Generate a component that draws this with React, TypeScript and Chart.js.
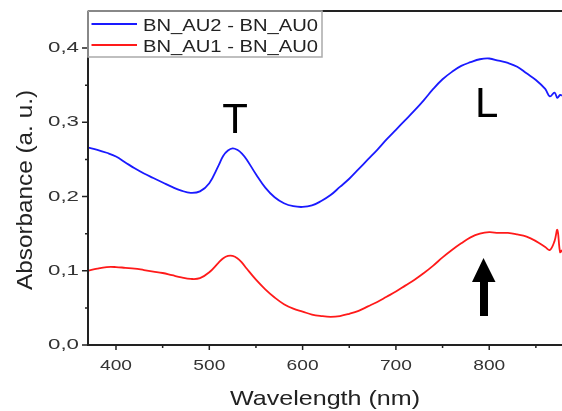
import React, { useEffect, useRef } from "react";
import { Chart, registerables } from "chart.js";

Chart.register(...registerables);

const wavelengths = [370, 380, 390, 400, 410, 420, 430, 440, 450, 460, 470, 480, 490, 500, 510, 515, 520, 525, 530, 535, 540, 550, 560, 570, 580, 590, 600, 610, 620, 630, 640, 650, 660, 670, 680, 690, 700, 710, 720, 730, 740, 750, 760, 770, 780, 790, 800, 810, 820, 830, 840, 850, 860, 865, 870, 873, 876, 878];

const au2MinusAu0 = [0.266, 0.263, 0.259, 0.254, 0.246, 0.238, 0.231, 0.225, 0.219, 0.213, 0.208, 0.205, 0.207, 0.218, 0.242, 0.255, 0.262, 0.265, 0.263, 0.258, 0.25, 0.23, 0.212, 0.199, 0.191, 0.187, 0.186, 0.188, 0.194, 0.202, 0.213, 0.224, 0.237, 0.25, 0.263, 0.277, 0.29, 0.303, 0.316, 0.33, 0.345, 0.358, 0.368, 0.376, 0.381, 0.385, 0.386, 0.383, 0.38, 0.375, 0.366, 0.357, 0.345, 0.335, 0.34, 0.333, 0.337, 0.336];

const au1MinusAu0 = [0.1, 0.103, 0.105, 0.105, 0.104, 0.103, 0.101, 0.099, 0.097, 0.094, 0.091, 0.089, 0.09, 0.098, 0.111, 0.117, 0.12, 0.12, 0.117, 0.111, 0.103, 0.088, 0.075, 0.064, 0.055, 0.049, 0.045, 0.041, 0.039, 0.038, 0.039, 0.042, 0.046, 0.052, 0.058, 0.065, 0.072, 0.08, 0.088, 0.097, 0.107, 0.118, 0.128, 0.137, 0.145, 0.15, 0.152, 0.151, 0.151, 0.149, 0.146, 0.14, 0.132, 0.128, 0.14, 0.155, 0.125, 0.128];

const seriesLabels = ["BN_AU2 - BN_AU0", "BN_AU1 - BN_AU0"];
const seriesColors = ["#1a1aff", "#ff1a1a"];

const xMajorTicks = [400, 500, 600, 700, 800];
const xMinorTicks = [450, 550, 650, 750, 850];
const yMajorTicks = [0, 0.1, 0.2, 0.3, 0.4];
const yMinorTicks = [0.05, 0.15, 0.25, 0.35];
const yTickLabels = ["0,0", "0,1", "0,2", "0,3", "0,4"];
const xTickLabels = ["400", "500", "600", "700", "800"];

const FONT = '"Liberation Sans", Arial, sans-serif';

function drawStretched(
  ctx: CanvasRenderingContext2D,
  text: string,
  x: number,
  y: number,
  size: number,
  targetWidth: number,
  align: CanvasTextAlign,
  baseline: CanvasTextBaseline,
  color: string
) {
  ctx.save();
  ctx.font = `${size}px ${FONT}`;
  const w = ctx.measureText(text).width;
  const sx = targetWidth / w;
  ctx.translate(x, y);
  ctx.scale(sx, 1);
  ctx.textAlign = align;
  ctx.textBaseline = baseline;
  ctx.fillStyle = color;
  ctx.fillText(text, 0, 0);
  ctx.restore();
}

const decorPlugin = {
  id: "decor",
  afterDraw(chart: any) {
    const ctx: CanvasRenderingContext2D = chart.ctx;
    const xs = chart.scales.x;
    const ys = chart.scales.y;
    const area = chart.chartArea;
    ctx.save();
    ctx.strokeStyle = "#222";
    ctx.lineWidth = 2;
    ctx.beginPath();
    ctx.moveTo(area.left, area.top);
    ctx.lineTo(area.left, area.bottom);
    ctx.lineTo(area.right, area.bottom);
    ctx.moveTo(area.left, area.top);
    ctx.lineTo(area.right, area.top);
    ctx.stroke();

    ctx.lineWidth = 1.5;
    ctx.beginPath();
    xMajorTicks.forEach((v) => {
      const p = xs.getPixelForValue(v);
      ctx.moveTo(p, area.bottom);
      ctx.lineTo(p, area.bottom + 5);
    });
    xMinorTicks.forEach((v) => {
      const p = xs.getPixelForValue(v);
      ctx.moveTo(p, area.bottom);
      ctx.lineTo(p, area.bottom + 3);
    });
    yMajorTicks.forEach((v) => {
      const p = ys.getPixelForValue(v);
      ctx.moveTo(area.left, p);
      ctx.lineTo(area.left - 6, p);
    });
    yMinorTicks.forEach((v) => {
      const p = ys.getPixelForValue(v);
      ctx.moveTo(area.left, p);
      ctx.lineTo(area.left - 3, p);
    });
    ctx.stroke();

    yMajorTicks.forEach((v, i) => {
      const p = ys.getPixelForValue(v);
      drawStretched(ctx, yTickLabels[i], area.left - 9, p, 15, 31, "right", "middle", "#333");
    });
    xMajorTicks.forEach((v, i) => {
      const p = xs.getPixelForValue(v);
      drawStretched(ctx, xTickLabels[i], p, area.bottom + 25, 15, 32, "center", "alphabetic", "#333");
    });

    drawStretched(ctx, "Wavelength (nm)", 325, 405, 21, 190, "center", "alphabetic", "#222");
    ctx.save();
    ctx.translate(32, 190);
    ctx.rotate(-Math.PI / 2);
    drawStretched(ctx, "Absorbance (a. u.)", 0, 0, 22, 200, "center", "alphabetic", "#222");
    ctx.restore();

    const lx = area.left;
    const ly = area.top;
    ctx.fillStyle = "#fff";
    ctx.fillRect(lx + 1, ly + 1, 322 - lx - 1, 57 - ly - 1);
    ctx.strokeStyle = "#aaa";
    ctx.lineWidth = 1.5;
    ctx.strokeRect(lx, ly, 322 - lx, 57 - ly);
    const rows = [24, 45];
    seriesLabels.forEach((lab, i) => {
      ctx.strokeStyle = seriesColors[i];
      ctx.lineWidth = 1.8;
      ctx.beginPath();
      ctx.moveTo(91.5, rows[i]);
      ctx.lineTo(137, rows[i]);
      ctx.stroke();
      drawStretched(ctx, lab, 143, rows[i] + 6.5, 16, 175, "left", "alphabetic", "#222");
    });

    ctx.fillStyle = "#000";
    ctx.font = `42px ${FONT}`;
    ctx.textAlign = "center";
    ctx.textBaseline = "alphabetic";
    ctx.fillText("T", 235, 133);
    ctx.textAlign = "left";
    ctx.fillText("L", 475, 117);

    ctx.beginPath();
    ctx.moveTo(483.5, 258);
    ctx.lineTo(495.5, 282);
    ctx.lineTo(488, 282);
    ctx.lineTo(488, 316);
    ctx.lineTo(480, 316);
    ctx.lineTo(480, 282);
    ctx.lineTo(472, 282);
    ctx.closePath();
    ctx.fill();
    ctx.restore();
  },
};

export default function App() {
  const ref = useRef<HTMLCanvasElement | null>(null);
  useEffect(() => {
    document.body.style.margin = "0";
    const canvas = ref.current;
    if (!canvas) return;
    const chart = new Chart(canvas, {
      type: "line",
      data: {
        datasets: [
          {
            label: seriesLabels[0],
            data: wavelengths.map((x, i) => ({ x, y: au2MinusAu0[i] })),
            borderColor: seriesColors[0],
            borderWidth: 1.8,
            pointRadius: 0,
            tension: 0.4,
          },
          {
            label: seriesLabels[1],
            data: wavelengths.map((x, i) => ({ x, y: au1MinusAu0[i] })),
            borderColor: seriesColors[1],
            borderWidth: 1.8,
            pointRadius: 0,
            tension: 0.4,
          },
        ],
      },
      options: {
        animation: false,
        responsive: false,
        devicePixelRatio: 1,
        layout: { padding: { left: 0, right: 0, top: 11, bottom: 0 } },
        plugins: { legend: { display: false }, tooltip: { enabled: false } },
        scales: {
          x: {
            type: "linear",
            min: 370,
            max: 878,
            grid: { display: false },
            border: { display: false },
            ticks: { display: false },
            afterFit: (s: any) => {
              s.height = 66;
            },
          },
          y: {
            type: "linear",
            min: 0,
            max: 0.45,
            grid: { display: false },
            border: { display: false },
            ticks: { display: false },
            afterFit: (s: any) => {
              s.width = 88;
            },
          },
        },
      },
      plugins: [decorPlugin],
    });
    return () => chart.destroy();
  }, []);
  return <canvas ref={ref} width={562} height={411} style={{ display: "block" }} />;
}
